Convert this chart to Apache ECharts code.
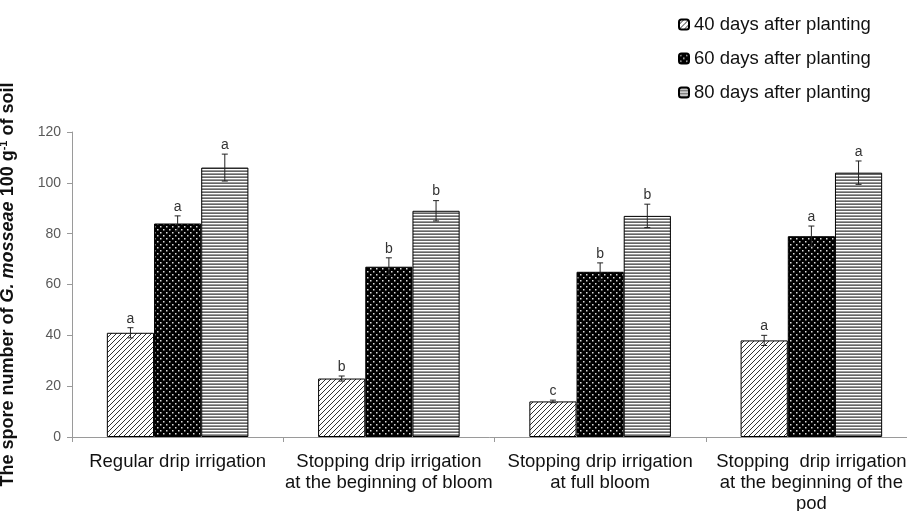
<!DOCTYPE html>
<html>
<head>
<meta charset="utf-8">
<script src="https://cdn.jsdelivr.net/npm/echarts@6/dist/echarts.min.js"></script>
<style>
  html, body { margin: 0; padding: 0; background: #fff; }
  #chart { width: 907px; height: 511px; }
</style>
</head>
<body>
<div id="chart"></div>
<script>
// data
const categories = [
  'Regular drip irrigation',
  'Stopping drip irrigation\nat the beginning of bloom',
  'Stopping drip irrigation\nat full bloom',
  'Stopping  drip irrigation\nat the beginning of the\npod'
]
const seriesNames = ['40 days after planting', '60 days after planting', '80 days after planting']
const days40 = [41, 23, 14, 38]
const days60 = [84, 67, 65, 79]
const days80 = [106, 89, 87, 104]
const err40 = [2, 1, 0.5, 2]
const err60 = [3, 3.5, 3.5, 4]
const err80 = [5.3, 4, 4.6, 4.6]
const letters40 = ['a', 'b', 'c', 'a']
const letters60 = ['a', 'b', 'b', 'a']
const letters80 = ['a', 'b', 'b', 'a']
const yMin = 0
const yMax = 120
const yStep = 20

const FONT = 'Liberation Sans, Arial, sans-serif'
const CAT_GAP = 0.33

// fill patterns
function makePattern (w, h, draw) {
  const c = document.createElement('canvas')
  c.width = w
  c.height = h
  draw(c.getContext('2d'))
  return { image: c, repeat: 'repeat' }
}
const hatch = makePattern(5, 5, ctx => {
  ctx.fillStyle = '#fff'
  ctx.fillRect(0, 0, 5, 5)
  ctx.strokeStyle = '#333'
  ctx.lineWidth = 1
  ctx.beginPath()
  ctx.moveTo(-1, 6); ctx.lineTo(6, -1)
  ctx.moveTo(-1, 1); ctx.lineTo(1, -1)
  ctx.moveTo(4, 6); ctx.lineTo(6, 4)
  ctx.stroke()
})
const dots = makePattern(6, 6, ctx => {
  ctx.fillStyle = '#000'
  ctx.fillRect(0, 0, 6, 6)
  ctx.fillStyle = '#ddd'
  ctx.fillRect(1, 1, 1.5, 1.5)
  ctx.fillRect(4, 4, 1.5, 1.5)
})
const stripes = makePattern(4, 3, ctx => {
  ctx.fillStyle = '#666'
  ctx.fillRect(0, 0, 4, 1)
  ctx.fillStyle = '#fff'
  ctx.fillRect(0, 1, 4, 1)
  ctx.fillStyle = '#9a9a9a'
  ctx.fillRect(0, 2, 4, 1)
})

const values = [days40, days60, days80]
const errors = [err40, err60, err80]
const letters = [letters40, letters60, letters80]
const fills = [hatch, dots, stripes]

// rows for error bars: [category, series, value, error]
const errRows = []
const errLetters = []
values.forEach((arr, s) => {
  arr.forEach((v, i) => {
    errRows.push([i, s, v, errors[s][i]])
    errLetters.push(letters[s][i])
  })
})

function renderErr (params, api) {
  const cat = api.value(0)
  const s = api.value(1)
  const v = api.value(2)
  const e = api.value(3)
  const band = api.size([1, 0])[0]
  const bw = band * (1 - CAT_GAP) / 3
  const x = api.coord([cat, 0])[0] + (s - 1) * bw
  const top = api.coord([cat, v + e])[1]
  const bot = api.coord([cat, v - e])[1]
  const ls = { stroke: '#222', lineWidth: 1 }
  return {
    type: 'group',
    children: [
      { type: 'line', shape: { x1: x, y1: top, x2: x, y2: bot }, style: ls },
      { type: 'line', shape: { x1: x - 3, y1: top, x2: x + 3, y2: top }, style: ls },
      { type: 'line', shape: { x1: x - 3, y1: bot, x2: x + 3, y2: bot }, style: ls },
      {
        type: 'text',
        x: x,
        y: top - 2,
        style: {
          text: errLetters[params.dataIndex],
          align: 'center',
          verticalAlign: 'bottom',
          font: '14px ' + FONT,
          fill: '#333'
        }
      }
    ]
  }
}

const chart = echarts.init(document.getElementById('chart'), null, { renderer: 'canvas' })

const barSeries = seriesNames.map((name, s) => ({
  name: name,
  type: 'bar',
  data: values[s],
  barGap: '0%',
  barCategoryGap: (CAT_GAP * 100) + '%',
  itemStyle: {
    color: fills[s],
    borderColor: '#000',
    borderWidth: 1
  },
  emphasis: { disabled: true },
  animation: false
}))

chart.setOption({
  animation: false,
  backgroundColor: '#fff',
  legend: {
    data: seriesNames,
    orient: 'vertical',
    left: 673,
    top: 10,
    itemWidth: 10,
    itemHeight: 10,
    itemGap: 15,
    textStyle: {
      fontFamily: FONT,
      fontSize: 18.5,
      lineHeight: 19,
      color: '#111'
    }
  },
  grid: {
    left: 72,
    top: 132,
    width: 845,
    height: 305,
    outerBoundsMode: 'none',
    containLabel: false
  },
  xAxis: {
    type: 'category',
    data: categories,
    axisLine: { lineStyle: { color: '#9a9a9a' } },
    axisTick: { show: true, length: 5, lineStyle: { color: '#9a9a9a' } },
    axisLabel: {
      interval: 0,
      margin: 14,
      fontFamily: FONT,
      fontSize: 18.5,
      lineHeight: 21,
      color: '#111'
    }
  },
  yAxis: {
    type: 'value',
    min: yMin,
    max: yMax,
    interval: yStep,
    name: '{b|The spore number of }{i|G. mosseae}{b| 100 g}{s|-1}{b| of soil}',
    nameLocation: 'middle',
    nameRotate: 90,
    nameGap: 54,
    nameTextStyle: {
      rich: {
        b: { fontFamily: FONT, fontSize: 18, fontWeight: 'bold', color: '#111', lineHeight: 20 },
        i: { fontFamily: FONT, fontSize: 18, fontWeight: 'bold', fontStyle: 'italic', color: '#111', lineHeight: 20 },
        s: { fontFamily: FONT, fontSize: 11, fontWeight: 'bold', color: '#111', lineHeight: 12, verticalAlign: 'top' }
      }
    },
    splitLine: { show: false },
    axisLine: { show: true, lineStyle: { color: '#9a9a9a' } },
    axisTick: { show: true, length: 5, lineStyle: { color: '#9a9a9a' } },
    axisLabel: {
      margin: 11,
      fontFamily: FONT,
      fontSize: 14,
      color: '#595959'
    }
  },
  series: barSeries.concat([{
    name: 'errors',
    type: 'custom',
    renderItem: renderErr,
    data: errRows,
    z: 5,
    silent: true,
    animation: false
  }])
})
</script>
</body>
</html>
